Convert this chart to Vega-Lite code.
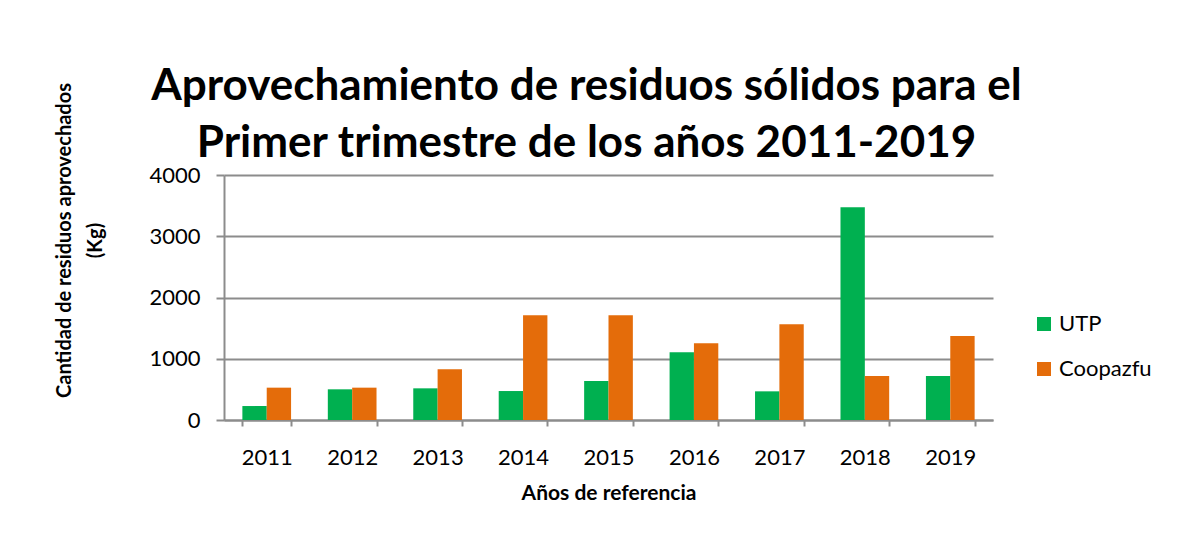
{
  "$schema": "https://vega.github.io/schema/vega-lite/v6.json",
  "autosize": {"type": "none"},
  "padding": {"left": 224, "top": 175, "right": 184, "bottom": 122},
  "width": 769,
  "height": 245,
  "background": "white",
  "title": {
    "text": ["Aprovechamiento de residuos sólidos para el", "Primer trimestre de los años 2011-2019"],
    "font": "Lato",
    "fontSize": 44,
    "fontWeight": "bold",
    "color": "#000000",
    "lineHeight": 57,
    "anchor": "middle",
    "frame": "group",
    "dx": -22,
    "dy": 55,
    "offset": -28
  },
  "data": {
    "values": [
      {"year": "2011", "series": "UTP", "value": 228},
      {"year": "2011", "series": "Coopazfu", "value": 528},
      {"year": "2012", "series": "UTP", "value": 501},
      {"year": "2012", "series": "Coopazfu", "value": 528},
      {"year": "2013", "series": "UTP", "value": 517},
      {"year": "2013", "series": "Coopazfu", "value": 827},
      {"year": "2014", "series": "UTP", "value": 473},
      {"year": "2014", "series": "Coopazfu", "value": 1709},
      {"year": "2015", "series": "UTP", "value": 637},
      {"year": "2015", "series": "Coopazfu", "value": 1709},
      {"year": "2016", "series": "UTP", "value": 1105},
      {"year": "2016", "series": "Coopazfu", "value": 1252},
      {"year": "2017", "series": "UTP", "value": 468},
      {"year": "2017", "series": "Coopazfu", "value": 1562},
      {"year": "2018", "series": "UTP", "value": 3472},
      {"year": "2018", "series": "Coopazfu", "value": 718},
      {"year": "2019", "series": "UTP", "value": 718},
      {"year": "2019", "series": "Coopazfu", "value": 1371}
    ]
  },
  "mark": {"type": "bar"},
  "encoding": {
    "x": {
      "field": "year",
      "type": "nominal",
      "scale": {"paddingInner": 0.43, "paddingOuter": 0.215},
      "axis": {
        "title": "Años de referencia",
        "titleFont": "Lato",
        "titleFontSize": 21,
        "titleFontWeight": "bold",
        "titleColor": "#000000",
        "titlePadding": 14,
        "labelFont": "Lato",
        "labelFontSize": 22,
        "labelColor": "#000000",
        "labelAngle": 0,
        "labelPadding": 21,
        "tickBand": "extent",
        "tickSize": 6,
        "tickWidth": 2,
        "tickColor": "#8c8c8c",
        "domainColor": "#8c8c8c",
        "domainWidth": 2,
        "grid": false
      }
    },
    "xOffset": {"field": "series", "type": "nominal", "sort": ["UTP", "Coopazfu"], "scale": {"paddingInner": 0, "paddingOuter": 0}},
    "y": {
      "field": "value",
      "type": "quantitative",
      "scale": {"domain": [0, 4000]},
      "axis": {
        "values": [0, 1000, 2000, 3000, 4000],
        "format": "d",
        "title": ["Cantidad de residuos aprovechados", "(Kg)"],
        "titleFont": "Lato",
        "titleFontSize": 20,
        "titleFontWeight": "bold",
        "titleColor": "#000000",
        "titleLineHeight": 31,
        "titlePadding": 43,
        "titleY": 65,
        "labelFont": "Lato",
        "labelFontSize": 22,
        "labelColor": "#000000",
        "labelPadding": 16,
        "tickSize": 8,
        "tickWidth": 2,
        "tickColor": "#8c8c8c",
        "domainColor": "#8c8c8c",
        "domainWidth": 2,
        "grid": true,
        "gridColor": "#8c8c8c",
        "gridWidth": 2
      }
    },
    "color": {
      "field": "series",
      "type": "nominal",
      "sort": ["UTP", "Coopazfu"],
      "scale": {"domain": ["UTP", "Coopazfu"], "range": ["#00B050", "#E46C0A"]},
      "legend": {
        "title": null,
        "orient": "none",
        "legendX": 809,
        "legendY": 138,
        "symbolType": "square",
        "symbolSize": 196,
        "symbolStrokeWidth": 0,
        "labelFont": "Lato",
        "labelFontSize": 22,
        "labelColor": "#000000",
        "labelOffset": 4,
        "rowPadding": 23
      }
    }
  },
  "config": {
    "view": {"stroke": null},
    "axis": {"labelFlush": false}
  }
}
